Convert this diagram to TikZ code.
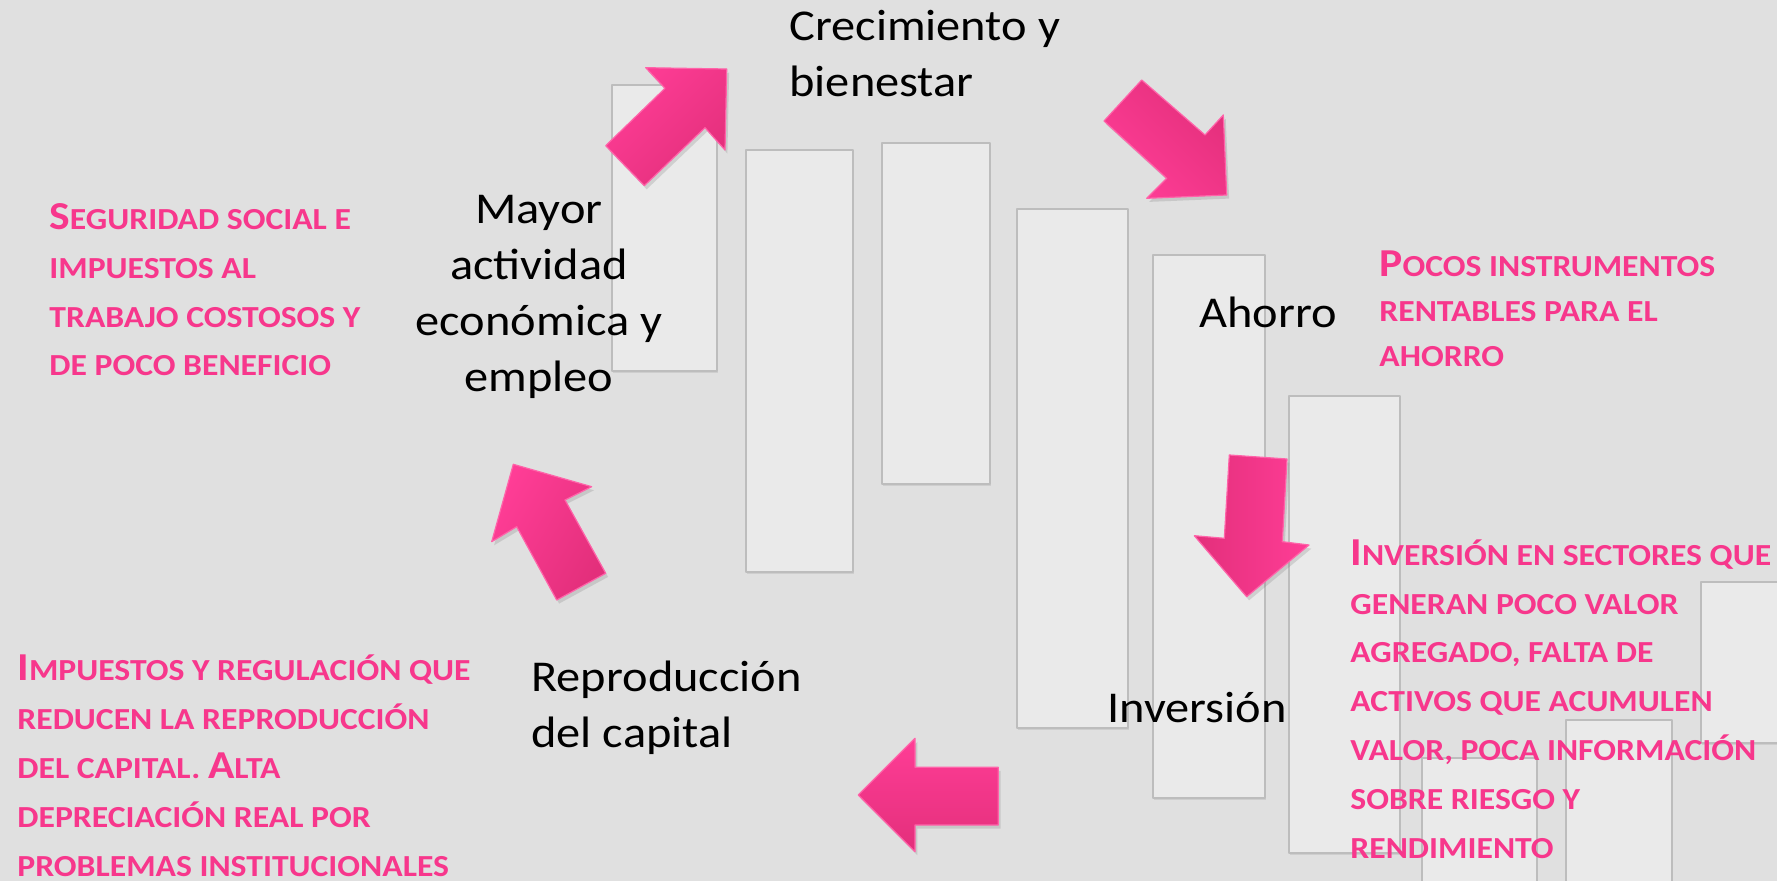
\documentclass[tikz,border=0pt]{standalone}
\usepackage{fontspec}
\setmainfont{Carlito}[FakeStretch=1.1]
\usepackage{tikz}
\usetikzlibrary{shadows}
\definecolor{BackGray}{HTML}{E0E0E0}
\definecolor{PanelFill}{HTML}{EAEAEA}
\definecolor{PanelLine}{HTML}{BDBDBD}
\definecolor{PinkText}{HTML}{F7378C}
\definecolor{PinkLight}{HTML}{FF3D96}
\definecolor{PinkDark}{HTML}{E32F7B}
\definecolor{PinkEdge}{HTML}{FF63A9}
\newcommand{\BodyFont}{\fontsize{22pt}{28pt}\selectfont}
\newcommand{\NoteFont}{\fontsize{15.3pt}{24.4pt}\selectfont\bfseries}
\newcommand{\CapLetter}[1]{{\fontsize{19.8pt}{24.4pt}\selectfont #1}}
\tikzset{
  panel/.style={fill=PanelFill,draw=PanelLine,line width=0.8pt,
    drop shadow={shadow xshift=0.4pt,shadow yshift=-1.2pt,opacity=0.18}},
  pinkarrow/.style={draw=PinkEdge,line width=0.6pt,left color=PinkLight,right color=PinkDark,
    shading angle=#1,drop shadow={shadow xshift=1.2pt,shadow yshift=-1.8pt,opacity=0.25}},
  bodytext/.style={inner sep=0pt,font=\BodyFont,text=black},
  notetext/.style={inner sep=0pt,font=\NoteFont,text=PinkText,align=left,anchor=base west}
}

\begin{document}
\begin{tikzpicture}[x=0.5pt,y=-0.5pt,line join=round]
  \useasboundingbox (0,0) rectangle (1777,881);
  \clip (0,0) rectangle (1777,881);
  \fill[BackGray] (0,0) rectangle (1777,881);
  % light panels behind the cycle
  \foreach \xa/\ya/\xb/\yb in {612/85/717/371,746/150/853/572,882/143/990/484,
      1017/209/1128/728,1153/255/1265/798,1289/396/1400/853,
      1701/582/1811/743,1566/720/1672/900,1422/758/1537/900}
    \draw[panel] (\xa,\ya) rectangle (\xb,\yb);
  % arrows of the cycle
  \draw[pinkarrow=45] (645.7,67.7) -- (726.7,69) -- (725,150) -- (705,127.7)
    -- (644.3,185.7) -- (605.7,145.7) -- (665,88.3) -- cycle;
  \draw[pinkarrow=135] (1141.7,80) -- (1205,135) -- (1223.3,115) -- (1226.7,195)
    -- (1146.7,198.3) -- (1166.7,178.3) -- (1104,121) -- cycle;
  \draw[pinkarrow=270] (1229.3,455) -- (1287,459) -- (1282.3,541.7) -- (1309,545)
    -- (1246.7,596.7) -- (1194.3,535.7) -- (1224.3,538.3) -- cycle;
  \draw[pinkarrow=0] (858.3,795) -- (915,738.3) -- (915,767.3) -- (998.3,767.3)
    -- (998.3,825) -- (915,825) -- (915,851.7) -- cycle;
  \draw[pinkarrow=60] (513.3,464.3) -- (591.7,486.7) -- (565,500) -- (605.7,573.3)
    -- (556.7,600) -- (516.7,526.7) -- (491.7,541.7) -- cycle;
  % stages (base = last line)
  \node[bodytext,align=left,anchor=base west] (grow) at (789,97) {Crecimiento y\\bienestar};
  \node[bodytext,anchor=base west] (saving) at (1199,328) {Ahorro};
  \node[bodytext,anchor=base west] (invest) at (1107,722) {Inversión};
  \node[bodytext,align=left,anchor=base west] (capital) at (531,747) {Reproducción\\del capital};
  \node[bodytext,align=center,anchor=base] (activity) at (539,392)
    {Mayor\\actividad\\económica y\\empleo};
  % obstacles
  \node[notetext] (noteSocial) at (49,376)
    {\CapLetter{S}EGURIDAD SOCIAL E\\IMPUESTOS AL\\TRABAJO COSTOSOS Y\\DE POCO BENEFICIO};
  \node[notetext,font=\fontsize{15.3pt}{22.5pt}\selectfont\bfseries] (noteSaving) at (1379,367)
    {\CapLetter{P}OCOS INSTRUMENTOS\\RENTABLES PARA EL\\AHORRO};
  \node[notetext] (noteInvest) at (1350,858)
    {\CapLetter{I}NVERSIÓN EN SECTORES QUE\\GENERAN POCO VALOR\\AGREGADO, FALTA DE\\
     ACTIVOS QUE ACUMULEN\\VALOR, POCA INFORMACIÓN\\SOBRE RIESGO Y\\RENDIMIENTO};
  \node[notetext] (noteCapital) at (17,876)
    {\CapLetter{I}MPUESTOS Y REGULACIÓN QUE\\REDUCEN LA REPRODUCCIÓN\\DEL CAPITAL. \CapLetter{A}LTA\\
     DEPRECIACIÓN REAL POR\\PROBLEMAS INSTITUCIONALES};
\end{tikzpicture}
\end{document}
